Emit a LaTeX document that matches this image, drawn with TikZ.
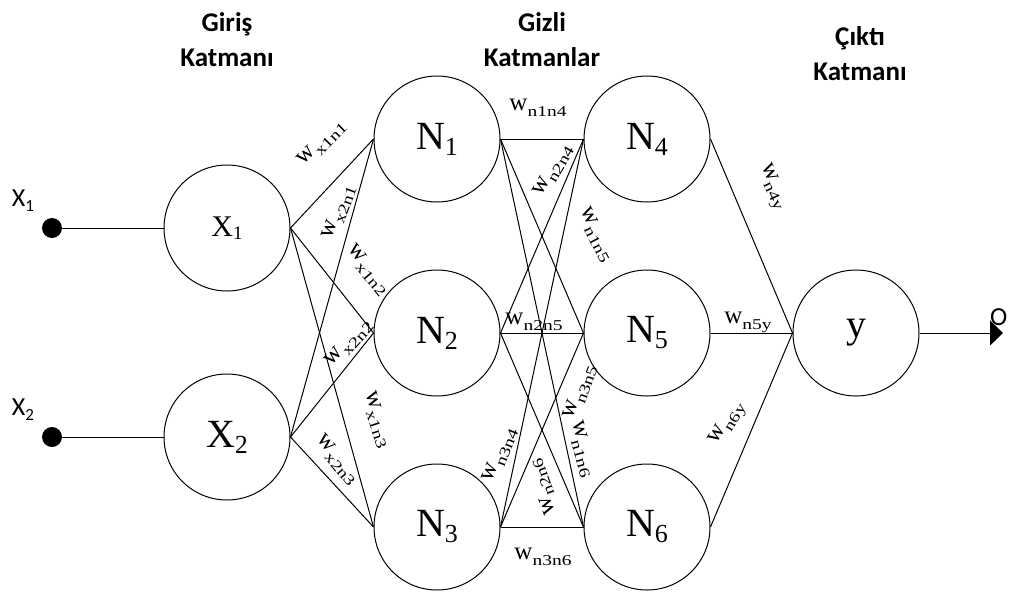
\documentclass[tikz,border=0pt]{standalone}
\usepackage{fontspec}
\setmainfont{Liberation Serif}
\newfontfamily\hdfont{Carlito}
\newfontfamily\wsubfont[FakeStretch=1.3]{Liberation Serif}
\usetikzlibrary{arrows.meta}
\newcommand{\wl}[1]{{\fontsize{25}{25}\selectfont w}\raisebox{-6pt}{\wsubfont\fontsize{15}{15}\selectfont #1}}
\newcommand{\nl}[2]{{\fontsize{40}{40}\selectfont #1}\raisebox{-6pt}{\fontsize{26}{26}\selectfont #2}}
\begin{document}
\begin{tikzpicture}[x=1pt,y=-1pt,
  neuron/.style={circle,draw,line width=1pt,minimum size=126pt,inner sep=0pt},
  conn/.style={line width=1pt},
  wlab/.style={inner sep=0pt},
  hdr/.style={font=\hdfont\bfseries\fontsize{27}{35}\selectfont,align=center},
  inlab/.style={font=\hdfont\fontsize{26}{26}\selectfont,inner sep=0pt},
  dot/.style={circle,fill,minimum size=20pt,inner sep=0pt}]
\useasboundingbox (0,0) rectangle (1009,595);
% headers
\node[hdr] (h1) at (227,40) {Giriş\\Katmanı};
\node[hdr] (h2) at (542,40) {Gizli\\Katmanlar};
\node[hdr] (h3) at (860,54) {Çıktı\\Katmanı};
% neurons
\node[neuron] (x1) at (227,228) {{\fontsize{30}{30}\selectfont X}\raisebox{-3pt}{\fontsize{19}{19}\selectfont 1}};
\node[neuron] (x2) at (227,437) {\nl{X}{2}};
\node[neuron] (n1) at (437,139) {\nl{N}{1}};
\node[neuron] (n2) at (437,333) {\nl{N}{2}};
\node[neuron] (n3) at (437,527) {\nl{N}{3}};
\node[neuron] (n4) at (647,139) {\nl{N}{4}};
\node[neuron] (n5) at (647,333) {\nl{N}{5}};
\node[neuron] (n6) at (647,527) {\nl{N}{6}};
\node[neuron] (y) at (856,333) {{\fontsize{40}{40}\selectfont y}};
% inputs
\node[dot] (d1) at (52,228) {};
\node[dot] (d2) at (52,437) {};
\node[inlab] (lx1) at (23,201) {X\raisebox{-5pt}{\fontsize{17}{17}\selectfont 1}};
\node[inlab] (lx2) at (23,410) {X\raisebox{-5pt}{\fontsize{17}{17}\selectfont 2}};
\draw[conn] (d1) -- (x1.west);
\draw[conn] (d2) -- (x2.west);
% input -> hidden 1
\foreach \a in {x1,x2}{\foreach \b in {n1,n2,n3}{\draw[conn] (\a.east) -- (\b.west);}}
% hidden 1 -> hidden 2
\foreach \a in {n1,n2,n3}{\foreach \b in {n4,n5,n6}{\draw[conn] (\a.east) -- (\b.west);}}
% hidden 2 -> output
\foreach \a in {n4,n5,n6}{\draw[conn] (\a.east) -- (y.west);}
% output
\coordinate (o) at (1003,333);
\draw[conn,-{Triangle[length=13pt,width=25pt]}] (y.east) -- (o);
\node[inlab,anchor=west] (ol) at (990,317) {O};
% weight labels
\node[wlab,rotate=45] (w1) at (322,143) {\wl{x1n1}};
\node[wlab,rotate=70] (w2) at (339,212) {\wl{x2n1}};
\node[wlab,rotate=-50] (w3) at (368,270) {\wl{x1n2}};
\node[wlab,rotate=48] (w4) at (349,343) {\wl{x2n2}};
\node[wlab,rotate=-72] (w5) at (377,420) {\wl{x1n3}};
\node[wlab,rotate=-50] (w6) at (337,460) {\wl{x2n3}};
\node[wlab] (w7) at (538,108) {\wl{n1n4}};
\node[wlab,rotate=60] (w8) at (553,170) {\wl{n2n4}};
\node[wlab,rotate=-63] (w9) at (596,235) {\wl{n1n5}};
\node[wlab] (w10) at (534,322) {\wl{n2n5}};
\node[wlab,rotate=68] (w11) at (500,455) {\wl{n3n4}};
\node[wlab,rotate=70] (w12) at (580,392) {\wl{n3n5}};
\node[wlab,rotate=-75] (w13) at (582,449) {\wl{n1n6}};
\node[wlab,rotate=110] (w14) at (543,487) {\wl{n2n6}};
\node[wlab] (w15) at (543,557) {\wl{n3n6}};
\node[wlab,rotate=-65] (w16) at (772,187) {\wl{n4y}};
\node[wlab] (w17) at (748,322) {\wl{n5y}};
\node[wlab,rotate=58] (w18) at (728,424) {\wl{n6y}};
\end{tikzpicture}
\end{document}
